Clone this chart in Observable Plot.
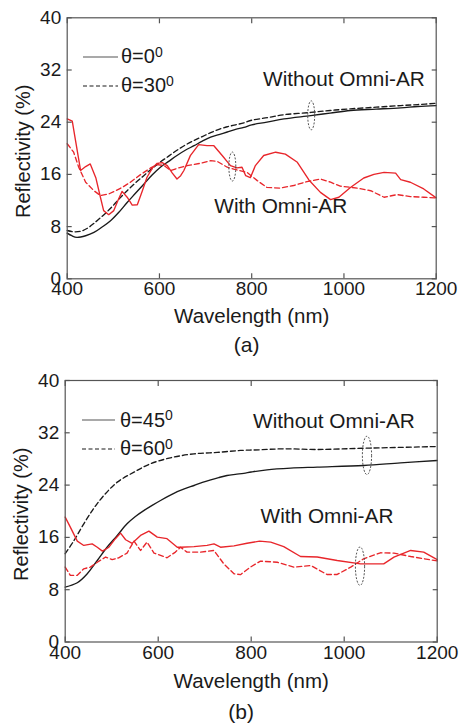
<!DOCTYPE html>
<html><head><meta charset="utf-8">
<script src="https://cdn.jsdelivr.net/npm/d3@7"></script>
<script src="https://cdn.jsdelivr.net/npm/@observablehq/plot@0.6"></script>
<style>
body{margin:0;background:#fff;font-family:"Liberation Sans",Arial,sans-serif;}
#wrap{position:relative;width:460px;height:726px;overflow:hidden;}
.panel{position:absolute;left:0;width:460px;}
.leg{position:absolute;font-size:20px;color:#1a1a1a;line-height:20px;white-space:nowrap;}
.leg .sup{position:relative;top:-0.45em;font-size:14px;}
.legline{position:absolute;}
</style></head>
<body><div id="wrap"></div>
<script>
// ---- data ----
const xTicks = [400, 600, 800, 1000, 1200];
const yTicks = [0, 8, 16, 24, 32, 40];

// (a) without Omni-AR
const a_bare_0 = [[400,7.0],[410,6.6],[421,6.35],[440,6.6],[458,7.1],[475,7.9],[494,8.9],[512,10.2],[530,11.7],[548,13.1],[566,14.5],[584,15.9],[602,17.1],[620,18.0],[638,18.9],[656,19.7],[675,20.4],[693,21.1],[711,21.7],[729,22.1],[747,22.5],[765,22.9],[783,23.2],[800,23.6],[833,24.0],[870,24.5],[928,25.0],[970,25.4],[1014,25.8],[1070,26.0],[1123,26.2],[1160,26.4],[1200,26.55]];
const a_bare_30 = [[400,7.4],[415,7.2],[430,7.3],[445,7.8],[458,8.5],[476,9.6],[494,10.8],[512,12.2],[530,13.5],[548,14.7],[566,15.8],[584,16.9],[602,17.9],[620,18.8],[638,19.7],[656,20.5],[675,21.2],[693,21.8],[711,22.4],[729,22.9],[747,23.3],[765,23.6],[783,23.9],[800,24.3],[834,24.7],[870,25.15],[928,25.5],[970,25.8],[1014,26.05],[1070,26.3],[1123,26.55],[1160,26.7],[1200,26.9]];
// (a) with Omni-AR
const a_ar_0 = [[400,24.5],[411,24.15],[418,21.2],[429,16.6],[440,17.2],[450,17.6],[462,15.5],[472,12.5],[479,10.45],[490,9.83],[501,10.45],[510,12.0],[519,13.4],[530,12.5],[541,11.3],[552,11.35],[563,13.5],[573,15.56],[585,17.0],[595,17.7],[606,17.8],[617,17.35],[628,16.2],[638,15.3],[646,15.8],[653,16.6],[667,18.88],[685,20.57],[703,20.4],[718,20.4],[736,18.9],[754,17.35],[768,17.0],[779,17.1],[787,15.8],[797,15.5],[808,17.35],[826,18.9],[852,19.4],[873,19.1],[899,17.86],[924,15.15],[949,13.25],[971,12.13],[989,12.5],[1014,14.0],[1043,15.45],[1065,16.0],[1087,16.3],[1112,16.2],[1123,15.2],[1144,14.8],[1173,13.77],[1200,12.4]];
const a_ar_30 = [[400,20.7],[414,19.4],[425,17.1],[440,14.8],[458,13.5],[472,12.75],[490,13.0],[505,13.5],[519,14.0],[537,14.8],[559,15.97],[581,17.0],[595,17.5],[610,17.35],[624,16.6],[642,17.0],[660,17.35],[689,17.7],[711,18.1],[725,18.0],[747,17.1],[761,16.8],[790,16.3],[812,15.05],[833,14.0],[862,13.9],[891,14.3],[920,14.9],[949,15.3],[971,14.8],[992,14.2],[1029,13.9],[1058,13.5],[1087,12.5],[1115,12.9],[1144,12.6],[1173,12.5],[1200,12.4]];

// (b) without Omni-AR
const b_bare_45 = [[400,8.4],[426,9.06],[447,10.4],[469,12.47],[490,14.5],[512,16.3],[533,18.08],[551,19.2],[569,20.1],[587,20.9],[605,21.65],[623,22.35],[641,23.0],[659,23.5],[677,23.94],[695,24.4],[713,24.8],[730,25.15],[748,25.47],[766,25.65],[784,25.8],[800,26.0],[834,26.34],[885,26.6],[942,26.75],[1042,27.0],[1121,27.4],[1200,27.76]];
const b_bare_60 = [[400,13.5],[419,15.53],[440,18.08],[462,20.5],[483,22.4],[512,24.45],[548,25.98],[583,27.25],[626,28.17],[677,28.78],[727,29.0],[777,29.3],[818,29.4],[870,29.55],[942,29.45],[1049,29.65],[1200,29.9]];
// (b) with Omni-AR
const b_ar_45 = [[400,19.1],[411,17.57],[426,15.43],[440,14.77],[458,15.0],[469,14.5],[480,13.9],[494,14.5],[508,15.8],[519,16.65],[530,15.64],[544,15.1],[562,16.3],[580,16.96],[598,16.04],[619,15.8],[641,14.5],[648,14.5],[677,14.6],[705,14.77],[720,15.0],[734,14.5],[763,14.7],[791,15.1],[818,15.43],[842,15.28],[870,14.6],[906,13.08],[942,13.0],[985,12.47],[1035,11.96],[1085,11.96],[1107,12.98],[1143,14.0],[1171,13.75],[1200,12.6]];
const b_ar_60 = [[400,11.45],[411,10.2],[426,10.2],[440,11.2],[454,11.45],[469,12.2],[487,13.0],[501,12.6],[515,12.88],[533,13.6],[548,15.43],[562,14.0],[576,15.28],[591,13.6],[619,12.88],[637,13.75],[648,14.5],[662,13.75],[691,13.75],[720,14.0],[741,11.96],[763,10.44],[777,10.3],[798,11.45],[820,12.37],[856,12.2],[892,11.45],[928,11.7],[963,10.33],[985,10.33],[1014,11.45],[1042,12.73],[1078,13.65],[1107,13.6],[1143,13.08],[1200,12.4]];

// annotations (data coordinates)
const a_notes = [{x:1000, y:30.6, t:"Without Omni-AR"}, {x:863, y:11.1, t:"With Omni-AR"}];
const b_notes = [{x:978, y:33.8, t:"Without Omni-AR"}, {x:963, y:19.2, t:"With Omni-AR"}];
const a_ovals = [[929, 25.05], [758, 17.2]];
const b_ovals = [[1049, 28.55], [1034, 11.6]];
const a_legend = ["θ=0", "θ=30"];
const b_legend = ["θ=45", "θ=60"];
const sup = "0";
const xLabel = "Wavelength (nm)";
const yLabel = "Reflectivity (%)";

// ---- drawing ----
const RED = "#e8262b", BLK = "#1a1a1a", FRAME = "#555";
const ellipse = {draw(ctx, size){
  const ry = Math.sqrt(size/Math.PI), rx = ry*0.24, k = 0.5523;
  ctx.moveTo(rx,0);
  ctx.bezierCurveTo(rx, ry*k, rx*k, ry, 0, ry);
  ctx.bezierCurveTo(-rx*k, ry, -rx, ry*k, -rx, 0);
  ctx.bezierCurveTo(-rx, -ry*k, -rx*k, -ry, 0, -ry);
  ctx.bezierCurveTo(rx*k, -ry, rx, -ry*k, rx, 0);
  ctx.closePath();
}};
const fmt = d => String(d);

function panel(o){
  const L = (data, stroke, dash, curve) => Plot.line(data, {x: d=>d[0], y: d=>d[1], stroke, strokeWidth: 1.35, strokeDasharray: dash, curve});
  return Plot.plot({
    width: 460, height: o.h,
    marginLeft: o.ml, marginRight: o.mr, marginTop: o.mt, marginBottom: o.mb,
    style: {fontFamily: '"Liberation Sans", Arial, sans-serif', fontSize: "19px", color: "#1a1a1a", background: "transparent", overflow: "visible"},
    x: {domain: [400, 1200]},
    y: {domain: [0, 40]},
    marks: [
      L(o.bare[0], BLK, null, "catmull-rom"),
      L(o.bare[1], BLK, "5,3", "catmull-rom"),
      L(o.ar[0], RED, null, "linear"),
      L(o.ar[1], RED, "5,3", "linear"),
      Plot.dot(o.ovals, {x: d=>d[0], y: d=>d[1], r: o.ovalR, symbol: ellipse, stroke: "#444", strokeWidth: 0.9, strokeDasharray: "2,1.5", fill: "none"}),
      Plot.text(o.notes, {x: "x", y: "y", text: "t", fontSize: 20.8, fill: "#1a1a1a", textAnchor: "middle"}),
      Plot.frame({stroke: FRAME, strokeWidth: 1.2}),
      Plot.axisX(xTicks, {anchor: "bottom", tickSize: -5, stroke: FRAME, strokeWidth: 1.2, text: null, label: null}),
      Plot.axisX(xTicks, {anchor: "top", tickSize: -5, stroke: FRAME, strokeWidth: 1.2, text: null, label: null}),
      Plot.axisY(yTicks, {anchor: "left", tickSize: -5, stroke: FRAME, strokeWidth: 1.2, text: null, label: null}),
      Plot.axisY(yTicks, {anchor: "right", tickSize: -5, stroke: FRAME, strokeWidth: 1.2, text: null, label: null}),
      Plot.axisX(xTicks, {anchor: "bottom", tickSize: 0, tickPadding: 3, fontSize: 19, tickFormat: fmt, label: null}),
      Plot.axisY(yTicks, {anchor: "left", tickSize: 0, tickPadding: 6, fontSize: 19, tickFormat: fmt, label: null}),
      Plot.text([xLabel], {frameAnchor: "bottom", dy: o.xlDy, fontSize: 20.5, textAnchor: "middle", lineAnchor: "middle"}),
      Plot.text([yLabel], {frameAnchor: "left", dx: -44, dy: 3, rotate: -90, fontSize: 20, textAnchor: "middle", lineAnchor: "middle"}),
      Plot.text([o.tag], {frameAnchor: "bottom", dx: o.tagDx, dy: o.tagDy, fontSize: 21, textAnchor: "middle", lineAnchor: "middle"})
    ]
  });
}

const wrap = document.getElementById("wrap");
function place(svg, top){
  const d = document.createElement("div");
  d.className = "panel"; d.style.top = top + "px";
  d.appendChild(svg); wrap.appendChild(d);
}
place(panel({h: 360, ml: 66.7, mr: 24.3, mt: 17.3, mb: 81.7, bare: [a_bare_0, a_bare_30], ar: [a_ar_0, a_ar_30], notes: a_notes, ovals: a_ovals, ovalR: 14.5, xlDy: 38, tag: "(a)", tagDx: -5, tagDy: 66}), 0);
place(panel({h: 366, ml: 64.7, mr: 23.3, mt: 20, mb: 84.5, bare: [b_bare_45, b_bare_60], ar: [b_ar_45, b_ar_60], notes: b_notes, ovals: b_ovals, ovalR: 19.2, xlDy: 39, tag: "(b)", tagDx: -10, tagDy: 70}), 360);

function legend(labels, x0, x1, tx, ys){
  labels.forEach((lab, i) => {
    const y = ys[i];
    const s = document.createElementNS("http://www.w3.org/2000/svg", "svg");
    s.setAttribute("class", "legline");
    s.setAttribute("width", x1 - x0); s.setAttribute("height", 4);
    s.style.left = x0 + "px"; s.style.top = (y - 2) + "px";
    const ln = document.createElementNS("http://www.w3.org/2000/svg", "line");
    ln.setAttribute("x1", 0); ln.setAttribute("x2", x1 - x0); ln.setAttribute("y1", 2); ln.setAttribute("y2", 2);
    ln.setAttribute("stroke", i === 0 ? "#555" : BLK); ln.setAttribute("stroke-width", 1.2);
    if (i === 1) ln.setAttribute("stroke-dasharray", "4,2.5");
    s.appendChild(ln); wrap.appendChild(s);
    const t = document.createElement("div");
    t.className = "leg"; t.style.left = tx + "px"; t.style.top = (y - 10.5) + "px";
    t.innerHTML = lab + '<span class="sup">' + sup + '</span>';
    wrap.appendChild(t);
  });
}
legend(a_legend, 83, 118, 121, [56.5, 85.5]);
legend(b_legend, 82, 115, 120, [420, 448.5]);
</script></body></html>
